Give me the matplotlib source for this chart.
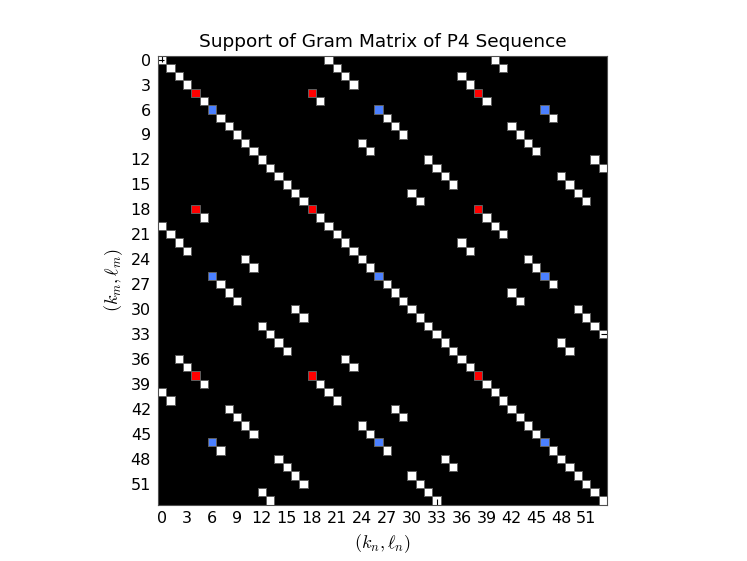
import matplotlib
matplotlib.use("Agg")
import matplotlib.pyplot as plt
import numpy as np
from matplotlib.patches import Rectangle

plt.rcParams["mathtext.fontset"] = "cm"

# groupy indeksow (k, l) ktore maja wspolne wsparcie w macierzy Grama
N = 54
groups = [[0, 20, 40], [2, 22, 36], [4, 18, 38], [6, 26, 46], [8, 28, 42],
          [10, 24, 44], [12, 32, 52], [14, 34, 48], [16, 30, 50]]
red_group = [4, 18, 38]
blue_group = [6, 26, 46]
ticks = list(range(0, 52, 3))

# budowa macierzy: 0 - brak, 1 - wsparcie, 2 - czerwone, 3 - niebieskie
M = np.zeros((N, N), dtype=int)
for g in groups:
    for a in g:
        for b in g:
            for k in (0, 1):
                M[a + k, b + k] = 1
for a in red_group:
    for b in red_group:
        M[a, b] = 2
for a in blue_group:
    for b in blue_group:
        M[a, b] = 3

colors = {1: "white", 2: "#ff0000", 3: "#4b80ff"}

fig = plt.figure(figsize=(7.47, 5.61), dpi=100)
ax = fig.add_axes([158 / 747, 56 / 561, 449 / 747, 450 / 561])
ax.set_facecolor("black")

# komorki niezerowe jako kwadraty z szarym obramowaniem
rows, cols = np.nonzero(M)
for r, c in zip(rows, cols):
    ax.add_patch(Rectangle((c - 0.5, r - 0.5), 1, 1,
                           facecolor=colors[M[r, c]],
                           edgecolor="#606060", lw=0.7))

ax.set_aspect("equal")
ax.set_xlim(-0.5, N - 0.5)
ax.set_ylim(N - 0.5, -0.5)
ax.set_xticks(ticks)
ax.set_yticks(ticks)
ax.tick_params(direction="in", length=4, labelsize=11.5, color="black",
               top=True, right=True, pad=5)
for s in ax.spines.values():
    s.set_color("#505050")

ax.set_title("Support of Gram Matrix of P4 Sequence", fontsize=13.3)
ax.set_xlabel(r"$(k_n,\ell_n)$", fontsize=13)
ax.set_ylabel(r"$(k_m,\ell_m)$", fontsize=13)

fig.savefig("out.png", dpi=100)
